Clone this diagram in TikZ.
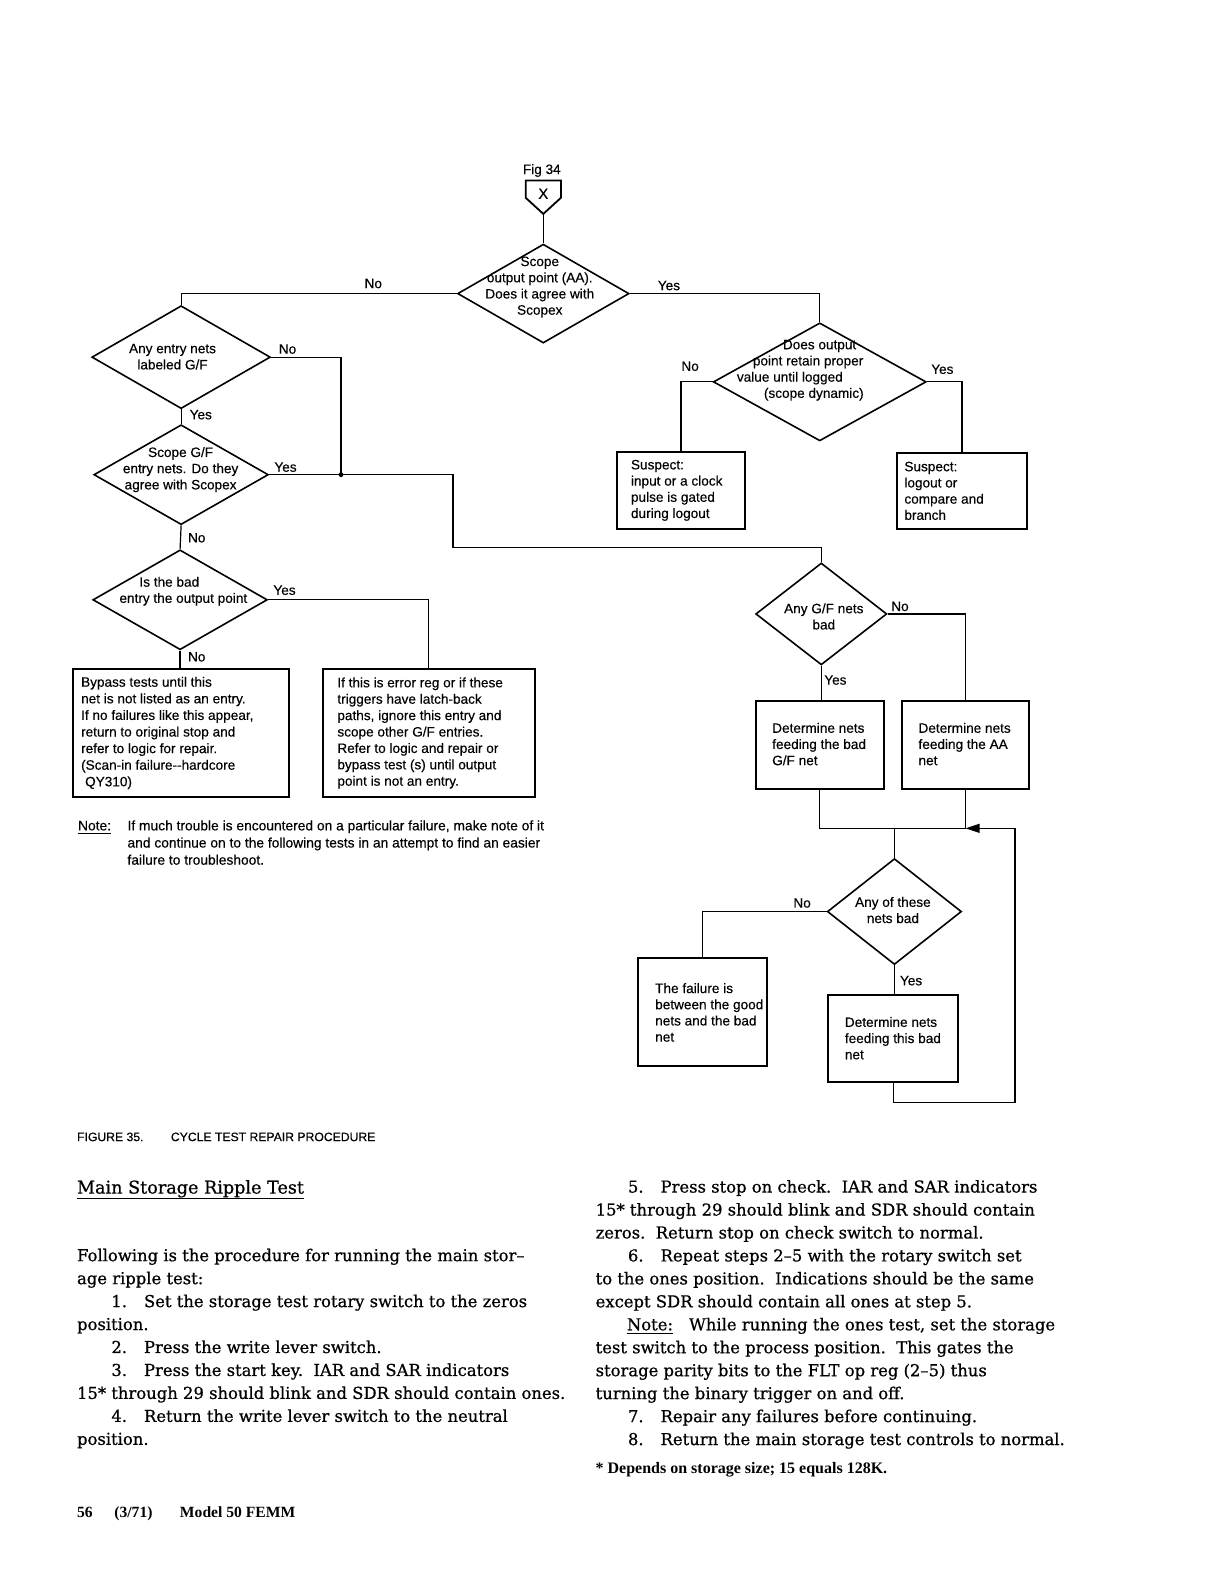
\documentclass[tikz,border=0pt]{standalone}
\usepackage{fontspec}
\setmainfont[FakeBold=0.7]{DejaVu Serif}
\newfontfamily\fcfam[FakeBold=0.3]{Liberation Sans}
\newfontfamily\tbfam{Liberation Serif}
\usetikzlibrary{shapes.geometric,arrows.meta}
\newlength{\pxu}\setlength{\pxu}{0.5045pt}
\newcommand{\fcsize}{\fcfam\fontsize{6.8}{8.1}\selectfont}
\newcommand{\notesize}{\fcfam\fontsize{6.9}{8.1}\selectfont}
\newcommand{\bodysize}{\fontsize{8.2}{11.48}\selectfont}
\begin{document}
\begin{tikzpicture}[x=0.5045pt,y=-0.5045pt,
  conn/.style={line width=0.6pt},
  dia/.style={draw,diamond,line width=0.8pt,inner sep=0pt},
  pbox/.style={draw,rectangle,line width=1pt,inner sep=0pt},
  fctext/.style={font=\fcsize,inner sep=0pt,align=center},
  btext/.style={font=\fcsize,inner sep=0pt,align=left,anchor=west},
  yn/.style={font=\fcsize,inner sep=0pt},
  notel/.style={font=\notesize,inner sep=0pt,anchor=base west},
  bodyl/.style={font=\bodysize,inner sep=0pt,anchor=base west},
]
\fill[white] (0,0) rectangle (1213,1568);
\useasboundingbox (0,0) rectangle (1213,1568);

% ---------- off-page connector ----------
\node[yn] (fig) at (537,169) {Fig 34};
\draw[line width=0.9pt] (521,179) -- (556,179) -- (556,196) -- (538.5,212) -- (521,196) -- cycle;
\node[yn,font=\fcfam\fontsize{7.5}{9}\selectfont] (cx) at (538.5,192) {X};
\coordinate (cb) at (538.5,212);

% ---------- diamonds ----------
\node[dia,minimum width=170\pxu,minimum height=98\pxu] (d0) at (538.5,291) {};
\node[dia,minimum width=177\pxu,minimum height=102\pxu] (d1) at (179.5,354) {};
\node[dia,minimum width=173\pxu,minimum height=99\pxu] (d2) at (179.5,470.5) {};
\node[dia,minimum width=173\pxu,minimum height=99\pxu] (d3) at (178.5,594.5) {};
\node[dia,minimum width=211\pxu,minimum height=117\pxu] (d4) at (812.5,378.5) {};
\node[dia,minimum width=130\pxu,minimum height=101\pxu] (d5) at (814,608.5) {};
\node[dia,minimum width=133\pxu,minimum height=105\pxu] (d6) at (886.5,903.5) {};

\node[fctext] (t0) at (535,284.5) {Scope\\output point (AA).\\Does it agree with\\Scopex};
\node[fctext] (t1) at (171,353.5) {Any entry nets\\labeled G/F};
\node[fctext] (t2) at (179,465.5) {Scope G/F\\entry nets. Do they\\agree with Scopex};
\node[btext] (t3) at (118,586) {\hspace*{10pt}Is the bad\\entry the output point};
\node[btext] (t4) at (730,367) {\hspace*{23pt}Does output\\\hspace*{8pt}point retain proper\\value until logged\\\hspace*{13.5pt}(scope dynamic)};
\node[fctext] (t5) at (816.5,611) {Any G/F nets\\bad};
\node[fctext] (t6) at (885,902) {Any of these\\nets bad};

% ---------- boxes ----------
\node[pbox,minimum width=214\pxu,minimum height=127\pxu] (b1) at (179,726.5) {};
\node[btext,font=\fcfam\fontsize{6.8}{8.3}\selectfont] (b1t) at ([xshift=9\pxu]b1.west) {Bypass tests until this\\net is not listed as an entry.\\If no failures like this appear,\\return to original stop and\\refer to logic for repair.\\(Scan-in failure-{}-hardcore\\\hspace*{2pt}QY310)};
\node[pbox,minimum width=210\pxu,minimum height=127\pxu] (b2) at (425,726.5) {};
\node[btext,font=\fcfam\fontsize{6.8}{8.2}\selectfont] (b2t) at ([xshift=15\pxu]b2.west) {If this is error reg or if these\\triggers have latch-back\\paths, ignore this entry and\\scope other G/F entries.\\Refer to logic and repair or\\bypass test (s) until output\\point is not an entry.};
\node[pbox,minimum width=126\pxu,minimum height=76\pxu] (b3) at (675,486) {};
\node[btext] (b3t) at ([xshift=14\pxu]b3.west) {Suspect:\\input or a clock\\pulse is gated\\during logout};
\node[pbox,minimum width=129\pxu,minimum height=75\pxu] (b4) at (953.5,486.5) {};
\node[btext] (b4t) at ([xshift=8\pxu]b4.west) {Suspect:\\logout or\\compare and\\branch};
\node[pbox,minimum width=127\pxu,minimum height=87\pxu] (b5) at (812.5,738.5) {};
\node[btext] (b5t) at ([xshift=17\pxu,yshift=1\pxu]b5.west) {Determine nets\\feeding the bad\\G/F net};
\node[pbox,minimum width=126\pxu,minimum height=87\pxu] (b6) at (957,738.5) {};
\node[btext] (b6t) at ([xshift=17\pxu,yshift=1\pxu]b6.west) {Determine nets\\feeding the AA\\net};
\node[pbox,minimum width=128\pxu,minimum height=107\pxu] (b7) at (696,1003.5) {};
\node[btext] (b7t) at ([xshift=18\pxu]b7.west) {The failure is\\between the good\\nets and the bad\\net};
\node[pbox,minimum width=129\pxu,minimum height=86\pxu] (b8) at (885.5,1029) {};
\node[btext] (b8t) at ([xshift=17\pxu]b8.west) {Determine nets\\feeding this bad\\net};

% ---------- yes / no labels ----------
\node[yn] (n0) at (370,281) {No};
\node[yn] (y0) at (663,283) {Yes};
\node[yn] (n1) at (285,346) {No};
\node[yn] (y1) at (199,411) {Yes};
\node[yn] (y2) at (283,463) {Yes};
\node[yn] (n2) at (195,533) {No};
\node[yn] (y3) at (282,585) {Yes};
\node[yn] (n3) at (195,651) {No};
\node[yn] (n4) at (684,363) {No};
\node[yn] (y4) at (934,366) {Yes};
\node[yn] (n5) at (892,601) {No};
\node[yn] (y5) at (828,674) {Yes};
\node[yn] (n6) at (795,895) {No};
\node[yn] (y6) at (903,972) {Yes};

% ---------- connectors ----------
\coordinate (j1) at (338,470.5);
\coordinate (c1) at (449,543);
\coordinate (m1) at (886.5,821);
\coordinate (a1) at (957,821);
\coordinate (r1) at (1006,1093);

\draw[conn] (cb) -- (d0.north);
\draw[conn] (d0.west) -| (d1.north);
\draw[conn] (d0.east) -| (d4.north);
\draw[conn] (d1.south) -- (d2.north);
\draw[conn] (d2.south) -- (d3.north);
\draw[conn] (d3.south) -- (d3.south |- b1.north);
\draw[conn] (d1.east) -| (j1);
\fill (j1) circle[radius=1.2pt];
\draw[conn] (d2.east) -| (c1) -| (d5.north);
\draw[conn] (d3.east) -| (b2.north);
\draw[conn] (d4.west) -| (b3.north);
\draw[conn] (d4.east) -| (b4.north);
\draw[conn] (d5.east) -| (b6.north);
\draw[conn] (d5.south) -- (d5.south |- b5.north);
\draw[conn] (b5.south) |- (m1) -- (d6.north);
\draw[conn] (b6.south) |- (m1);
\draw[conn,-{Triangle[length=7pt,width=4.5pt]}] (b8.south) |- (r1) |- (a1);
\draw[conn] (d6.west) -| (b7.north);
\draw[conn] (d6.south) -- (d6.south |- b8.north);

% ---------- note ----------
\node[notel] (nt0) at (77,823) {\underline{Note:}};
\node[notel] (nt1) at (126,823) {If much trouble is encountered on a particular failure, make note of it};
\node[notel] (nt2) at (126,840) {and continue on to the following tests in an attempt to find an easier};
\node[notel] (nt3) at (126,857) {failure to troubleshoot.};

% ---------- caption ----------
\node[notel,font=\fcfam\fontsize{6.1}{8}\selectfont] (cap1) at (76,1131) {FIGURE 35.};
\node[notel,font=\fcfam\fontsize{6.1}{8}\selectfont] (cap2) at (169,1131) {CYCLE TEST REPAIR PROCEDURE};

% ---------- body text ----------
\node[bodyl,font=\fontsize{8.8}{11}\selectfont] (hd) at (76,1183) {Main Storage Ripple Test};
\draw[line width=0.7pt] ([yshift=-0.4pt]hd.south west) -- ([yshift=-0.4pt]hd.south east);

\node[bodyl] (l1) at (76,1250) {Following is the procedure for running the main stor–};
\node[bodyl] (l2) at (76,1272.75) {age ripple test:};
\node[bodyl] (l3) at (110,1295.5) {1.\hspace{8.5pt}Set the storage test rotary switch to the zeros};
\node[bodyl] (l4) at (76,1318.25) {position.};
\node[bodyl] (l5) at (110,1341) {2.\hspace{8.5pt}Press the write lever switch.};
\node[bodyl] (l6) at (110,1363.75) {3.\hspace{8.5pt}Press the start key.\ \ IAR and SAR indicators};
\node[bodyl] (l7) at (76,1386.5) {15* through 29 should blink and SDR should contain ones.};
\node[bodyl] (l8) at (110,1409.25) {4.\hspace{8.5pt}Return the write lever switch to the neutral};
\node[bodyl] (l9) at (76,1432) {position.};

\node[bodyl] (r1t) at (622,1182) {5.\hspace{8.5pt}Press stop on check.\ \ IAR and SAR indicators};
\node[bodyl] (r2t) at (590,1204.75) {15* through 29 should blink and SDR should contain};
\node[bodyl] (r3t) at (590,1227.5) {zeros.\ \ Return stop on check switch to normal.};
\node[bodyl] (r4t) at (622,1250.25) {6.\hspace{8.5pt}Repeat steps 2–5 with the rotary switch set};
\node[bodyl] (r5t) at (590,1273) {to the ones position.\ \ Indications should be the same};
\node[bodyl] (r6t) at (590,1295.75) {except SDR should contain all ones at step 5.};
\node[bodyl] (r7t) at (621,1318.5) {\underline{Note:}\hspace{8pt}While running the ones test,\ set the storage};
\node[bodyl] (r8t) at (590,1341.25) {test switch to the process position.\ \ This gates the};
\node[bodyl] (r9t) at (590,1364) {storage parity bits to the FLT op reg (2–5) thus};
\node[bodyl] (r10t) at (590,1386.75) {turning the binary trigger on and off.};
\node[bodyl] (r11t) at (622,1409.5) {7.\hspace{8.5pt}Repair any failures before continuing.};
\node[bodyl] (r12t) at (622,1432.25) {8.\hspace{8.5pt}Return the main storage test controls to normal.};
\node[bodyl,font=\tbfam\bfseries\fontsize{8}{10}\selectfont] (fn) at (590,1460) {* Depends on storage size; 15 equals 128K.};

% ---------- footer ----------
\node[bodyl,font=\tbfam\bfseries\fontsize{7.8}{10}\selectfont] (ft1) at (76,1504) {56};
\node[bodyl,font=\tbfam\bfseries\fontsize{7.8}{10}\selectfont] (ft2) at (113,1504) {(3/71)};
\node[bodyl,font=\tbfam\bfseries\fontsize{7.8}{10}\selectfont] (ft3) at (178,1504) {Model 50 FEMM};
\end{tikzpicture}
\end{document}
